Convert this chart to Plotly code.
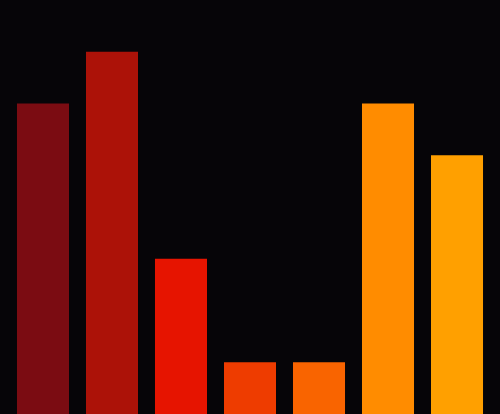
import plotly.graph_objects as go

categories = ["A", "B", "C", "D", "E", "F", "G"]
values = [6, 7, 3, 1, 1, 6, 5]
colors = ["#7b0c12", "#ac1208", "#e61400", "#ee3c00", "#f96400", "#ff8c00", "#ffa000"]

fig = go.Figure(go.Bar(
    x=categories, y=values,
    marker=dict(color=colors, line=dict(width=0)),
    hoverinfo="skip",
))
fig.update_layout(
    width=500, height=414,
    margin=dict(l=0, r=0, t=0, b=0),
    paper_bgcolor="#060508", plot_bgcolor="#060508",
    bargap=0.246,
    showlegend=False,
    xaxis=dict(visible=False, range=[-0.623, 6.623]),
    yaxis=dict(visible=False, range=[0, 8]),
)
fig.write_html(
    "out.html",
    config={"displayModeBar": False},
    post_script="document.body.style.margin='0';document.body.style.overflow='hidden';document.body.style.background='#060508';",
)
